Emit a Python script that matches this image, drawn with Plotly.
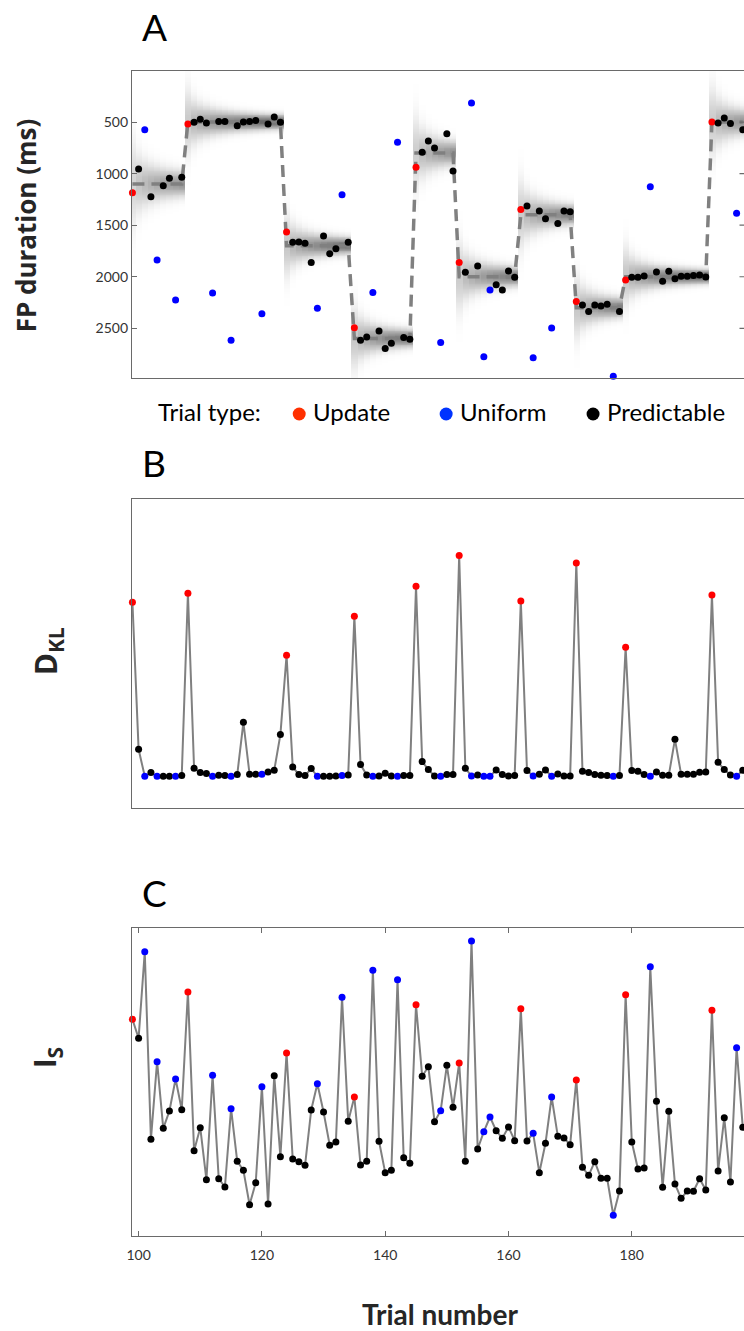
import numpy as np
import plotly.graph_objects as go

# ---------------- data ----------------
trials = list(range(99, 199))
update_trials = [99, 108, 124, 135, 145, 152, 162, 171, 179, 193]
uniform_trials = [101, 103, 106, 112, 115, 120, 129, 133, 138, 142, 149, 154,
                  156, 157, 164, 167, 177, 183, 197]

fp_duration_ms = [
    1185, 956, 574, 1224, 1838, 1117, 1046, 2225, 1036, 519,      # 99-108
    503, 474, 510, 2157, 494, 494, 2616, 536, 500, 494,          # 109-118
    484, 2358, 519, 452, 503, 1566, 1666, 1663, 1676, 1863,      # 119-128
    2306, 1605, 1776, 1728, 1204, 1666, 2494, 2616, 2584, 2154,  # 129-138
    2526, 2697, 2645, 697, 2590, 2607, 939, 794, 684, 752,       # 139-148
    2639, 613, 975, 1863, 1957, 316, 1896, 2775, 2128, 2077,     # 149-158
    2128, 1944, 2006, 1347, 1315, 2785, 1363, 1437, 2497, 1485,  # 159-168
    1363, 1369, 2241, 2274, 2338, 2274, 2284, 2267, 2965, 2338,  # 169-178
    2031, 2006, 2006, 1993, 1127, 1954, 2044, 1948, 2019, 1996,  # 179-188
    1996, 1989, 1983, 2002, 500, 510, 461, 513, 1385, 574,       # 189-198
]

dkl = [
    1.74, 0.27, 0.0, 0.037, 0.0, 0.0, 0.0, 0.0, 0.007, 1.83,
    0.08, 0.037, 0.027, 0.0, 0.01, 0.007, 0.0, 0.017, 0.54, 0.02,
    0.02, 0.02, 0.043, 0.06, 0.417, 1.21, 0.093, 0.017, 0.007, 0.077,
    0.0, 0.0, 0.0, 0.003, 0.007, 0.013, 1.60, 0.117, 0.013, 0.0,
    0.003, 0.03, 0.003, 0.0, 0.007, 0.007, 1.90, 0.147, 0.067, 0.003,
    0.0, 0.017, 0.017, 2.207, 0.08, 0.003, 0.013, 0.0, 0.0, 0.063,
    0.017, 0.003, 0.007, 1.753, 0.057, 0.003, 0.02, 0.063, 0.0, 0.023,
    0.003, 0.003, 2.133, 0.05, 0.037, 0.017, 0.01, 0.007, 0.0, 0.007,
    1.29, 0.057, 0.05, 0.017, 0.0, 0.043, 0.01, 0.01, 0.37, 0.02,
    0.02, 0.02, 0.04, 0.043, 1.813, 0.14, 0.067, 0.013, 0.0, 0.06,
]

i_s = [
    2.167, 1.977, 2.843, 0.967, 1.743, 1.077, 1.25, 1.57, 1.263, 2.44,
    0.853, 1.083, 0.563, 1.607, 0.573, 0.49, 1.273, 0.747, 0.657, 0.313,
    0.533, 1.493, 0.32, 1.603, 0.793, 1.83, 0.77, 0.743, 0.707, 1.26,
    1.523, 1.24, 0.907, 0.94, 2.387, 1.147, 1.39, 0.71, 0.747, 2.657,
    0.947, 0.633, 0.657, 2.563, 0.783, 0.727, 2.313, 1.597, 1.693, 1.143,
    1.253, 1.707, 1.287, 1.73, 0.747, 2.95, 0.87, 1.043, 1.19, 1.053,
    0.977, 1.09, 0.953, 2.273, 0.95, 1.027, 0.633, 0.927, 1.39, 0.997,
    0.98, 0.913, 1.56, 0.687, 0.607, 0.743, 0.577, 0.577, 0.207, 0.45,
    2.413, 0.94, 0.67, 0.68, 2.693, 1.347, 0.487, 1.247, 0.52, 0.377,
    0.45, 0.447, 0.573, 0.46, 2.257, 0.65, 1.183, 0.54, 1.883, 1.087,
]

block_start = [99, 108, 124, 135, 145, 152, 162, 171, 179, 193]
block_level_ms = [1100, 500, 1700, 2600, 800, 2000, 1400, 2300, 2000, 500]
block_initial_sd_ms = [260, 200, 190, 190, 220, 210, 210, 190, 180, 210]

x_ticks = [100, 120, 140, 160, 180]
fp_ticks = [500, 1000, 1500, 2000, 2500]
legend_labels = ["Update", "Uniform", "Predictable"]

# ---------------- styling ----------------
W, H = 744, 1331
ML, MR, MT, MB = 131.7, 0, 71, 95
PW, PH = W - ML - MR, H - MT - MB

def px(x):
    return (x - ML) / PW

def py(y):
    return (H - MB - y) / PH

TYPE_COLOR = {"Update": "#ff0000", "Uniform": "#0000ff", "Predictable": "#000000"}
LEGEND_COLOR = {"Update": "#ff3000", "Uniform": "#0033ff", "Predictable": "#000000"}
GRAY = "rgb(128,128,128)"
AXIS = "#6a6a6a"
NARROW = "Lato, 'Liberation Sans Narrow', sans-serif"
BOLDF = "'Open Sans', 'DejaVu Sans', sans-serif"

trial_type = ["Update" if t in update_trials else
              "Uniform" if t in uniform_trials else "Predictable" for t in trials]
colors = [TYPE_COLOR[k] for k in trial_type]

# block mean per trial (dashed line) and posterior spread (shading)
block_idx = [max(i for i, s in enumerate(block_start) if s <= t) for t in trials]
mean_line = [block_level_ms[b] for b in block_idx]
k_in_block = [t - block_start[b] + 1 for t, b in zip(trials, block_idx)]
sd = np.array([block_initial_sd_ms[b] * k ** -0.55 for b, k in zip(block_idx, k_in_block)])
ygrid = np.arange(0, 3001, 8)
mu = np.array(mean_line, dtype=float)
z = np.exp(-0.5 * ((ygrid[:, None] - mu[None, :]) / sd[None, :]) ** 2) * (sd.min() / sd[None, :]) ** 0.75

fig = go.Figure()

# ---- Panel A ----
fig.add_trace(go.Heatmap(x=trials, y=ygrid, z=z, xaxis="x", yaxis="y",
                         colorscale=[[0, "rgb(255,255,255)"], [1, "rgb(85,85,85)"]],
                         zmin=0, zmax=1, showscale=False, hoverinfo="skip", zsmooth=False))
fig.add_trace(go.Scatter(x=trials, y=mean_line, mode="lines", xaxis="x", yaxis="y",
                         line=dict(color=GRAY, width=3.5, dash="12px,7px"),
                         hoverinfo="skip", showlegend=False))
fig.add_trace(go.Scatter(x=trials, y=fp_duration_ms, mode="markers", xaxis="x", yaxis="y",
                         marker=dict(color=colors, size=7), cliponaxis=False,
                         showlegend=False))

# ---- Panel B ----
fig.add_trace(go.Scatter(x=trials, y=dkl, mode="lines", xaxis="x2", yaxis="y2",
                         line=dict(color=GRAY, width=2), showlegend=False, hoverinfo="skip"))
fig.add_trace(go.Scatter(x=trials, y=dkl, mode="markers", xaxis="x2", yaxis="y2",
                         marker=dict(color=colors, size=7), cliponaxis=False,
                         showlegend=False))

# ---- Panel C ----
fig.add_trace(go.Scatter(x=trials, y=i_s, mode="lines", xaxis="x3", yaxis="y3",
                         line=dict(color=GRAY, width=2), showlegend=False, hoverinfo="skip"))
fig.add_trace(go.Scatter(x=trials, y=i_s, mode="markers", xaxis="x3", yaxis="y3",
                         marker=dict(color=colors, size=7), cliponaxis=False,
                         showlegend=False))

xr = [98.93, 198.2]
base_x = dict(range=xr, showline=True, linecolor=AXIS, linewidth=1.3, mirror=True,
              showgrid=False, zeroline=False, domain=[0, 1])
base_y = dict(showline=True, linecolor=AXIS, linewidth=1.3, mirror=False,
              showgrid=False, zeroline=False)

dom_a = [py(378.3), 1.0]
dom_b = [py(807.7), py(499.3)]
dom_c = [0.0, py(928.3)]

fig.update_layout(
    width=W, height=H, autosize=False,
    margin=dict(l=ML, r=MR, t=MT, b=MB, pad=0),
    paper_bgcolor="white", plot_bgcolor="white",
    showlegend=False,
    xaxis=dict(base_x, anchor="y", showticklabels=False, ticks=""),
    yaxis=dict(base_y, domain=dom_a, anchor="x", range=[2985, 5],
               tickvals=fp_ticks, ticks="inside", ticklen=5, tickcolor=AXIS,
               tickfont=dict(family=NARROW, size=14, color="#333333")),
    xaxis2=dict(base_x, anchor="y2", showticklabels=False, ticks=""),
    yaxis2=dict(base_y, domain=dom_b, anchor="x2", range=[-0.314, 2.77],
                showticklabels=False, ticks=""),
    xaxis3=dict(base_x, anchor="y3", mirror="ticks", tickvals=x_ticks, ticks="inside",
                ticklen=5, tickcolor=AXIS, ticklabelstandoff=6,
                tickfont=dict(family=NARROW, size=14, color="#333333")),
    yaxis3=dict(base_y, domain=dom_c, anchor="x3", range=[0, 3.077],
                showticklabels=False, ticks=""),
)

# mirrored y ticks on the right edge of panel A
shapes = []
for v in fp_ticks:
    shapes.append(dict(type="line", xref="paper", yref="y", x0=px(739.5), x1=1.0,
                       y0=v, y1=v, line=dict(color=AXIS, width=1.2)))

annotations = []
for letter, yc in [("A", 27), ("B", 462), ("C", 892)]:
    annotations.append(dict(text=letter, x=px(140), y=py(yc), xref="paper", yref="paper",
                            xanchor="left", yanchor="middle", showarrow=False,
                            font=dict(family=NARROW, size=37, color="black")))

annotations.append(dict(text="FP duration (ms)", x=px(26), y=py(225), xref="paper",
                        yref="paper", textangle=-90, showarrow=False,
                        xanchor="center", yanchor="middle",
                        font=dict(family=BOLDF, size=26, color="#262626", weight=700)))
annotations.append(dict(text="D<sub>KL</sub>", x=px(47), y=py(651), xref="paper",
                        yref="paper", textangle=-90, showarrow=False,
                        xanchor="center", yanchor="middle",
                        font=dict(family=BOLDF, size=30, color="#262626", weight=700)))
annotations.append(dict(text="I<sub>S</sub>", x=px(46), y=py(1057), xref="paper",
                        yref="paper", textangle=-90, showarrow=False,
                        xanchor="center", yanchor="middle",
                        font=dict(family=BOLDF, size=30, color="#262626", weight=700)))
annotations.append(dict(text="Trial number", x=px(440), y=py(1314), xref="paper",
                        yref="paper", showarrow=False, xanchor="center", yanchor="middle",
                        font=dict(family=NARROW, size=28, color="#262626", weight=700)))

# custom legend
leg_y = 412
annotations.append(dict(text="Trial type:", x=px(156), y=py(leg_y), xref="paper",
                        yref="paper", showarrow=False, xanchor="left", yanchor="middle",
                        font=dict(family=NARROW, size=24, color="black")))
dot_x = [299, 446, 593]
for lab, dx in zip(legend_labels, dot_x):
    r = 6.5
    shapes.append(dict(type="circle", xref="paper", yref="paper",
                       x0=px(dx - r), x1=px(dx + r), y0=py(leg_y + 2 + r), y1=py(leg_y + 2 - r),
                       fillcolor=LEGEND_COLOR[lab], line=dict(width=0)))
    annotations.append(dict(text=lab, x=px(dx + 12), y=py(leg_y), xref="paper",
                            yref="paper", showarrow=False, xanchor="left", yanchor="middle",
                            font=dict(family=NARROW, size=24, color="black")))

fig.update_layout(shapes=shapes, annotations=annotations)

fig.write_html("out.html", config={"displayModeBar": False},
               post_script="document.body.style.margin='0';document.body.style.overflow='hidden';")
